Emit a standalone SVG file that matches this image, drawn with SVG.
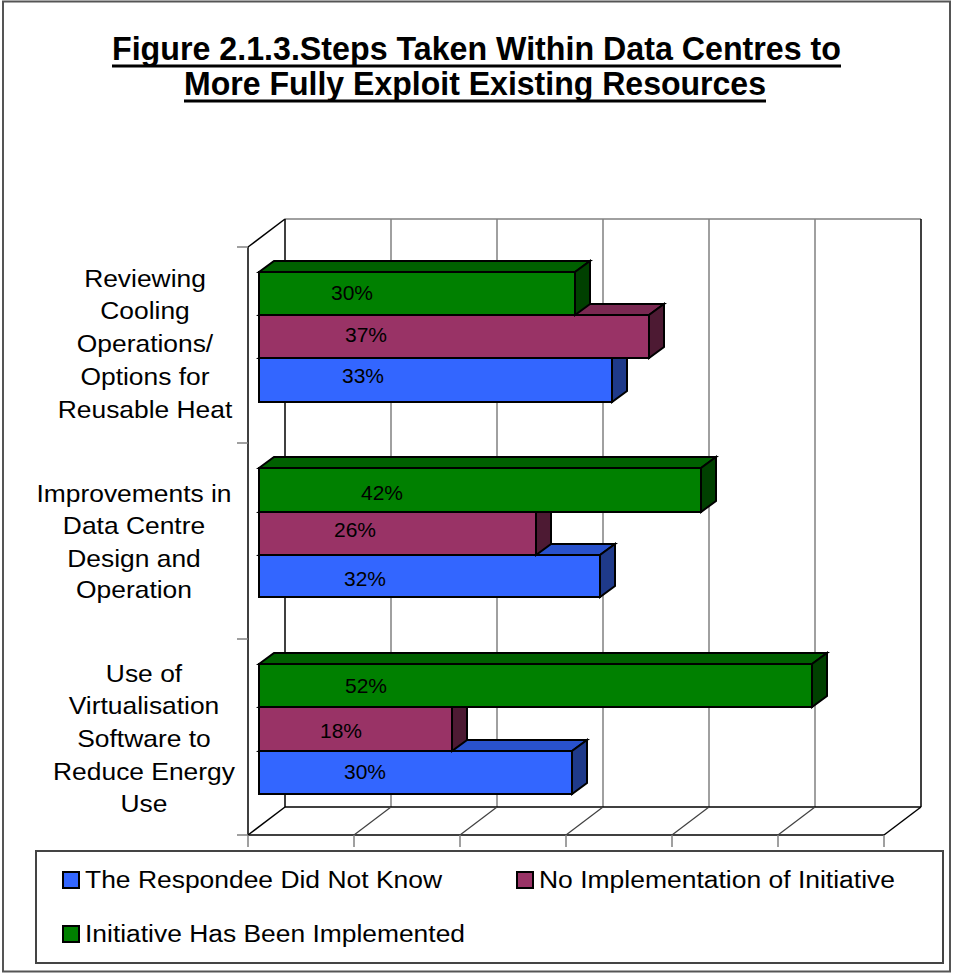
<svg xmlns="http://www.w3.org/2000/svg" width="954" height="974" viewBox="0 0 954 974">
<style>
text{font-family:"Liberation Sans",Arial,sans-serif;fill:#000}
.title{font-size:33px;font-weight:bold}
.cat{font-size:24px;text-anchor:middle}
.val{font-size:21px;text-anchor:middle}
.leg{font-size:23px}
.bar{stroke:#000;stroke-width:2;stroke-linejoin:miter}
.gf{fill:#008000}.gt{fill:#006000}.gs{fill:#004000}
.mf{fill:#993366}.mt{fill:#7a2952}.ms{fill:#4d1a33}
.bf{fill:#3366ff}.bt{fill:#2952cc}.bs{fill:#1f3a8a}
.grid{stroke:#808080;stroke-width:1.5;fill:none}
.ax{stroke:#000;stroke-width:1.5;fill:none}
.dg{stroke:#404040;stroke-width:1.2;fill:none}
</style>
<rect x="0" y="0" width="954" height="974" fill="#fff"/>
<rect x="3" y="1.5" width="947" height="970" fill="none" stroke="#555" stroke-width="2"/>
<g id="title">
<text class="title" x="112" y="60" textLength="729" lengthAdjust="spacingAndGlyphs">Figure 2.1.3.Steps Taken Within Data Centres to</text>
<line x1="112" y1="66" x2="841" y2="66" stroke="#000" stroke-width="3"/>
<text class="title" x="184" y="95" textLength="582" lengthAdjust="spacingAndGlyphs">More Fully Exploit Existing Resources</text>
<line x1="184" y1="101" x2="766" y2="101" stroke="#000" stroke-width="3"/>
</g>
<g id="axes">
<line class="grid" x1="285" y1="219" x2="921" y2="219"/>
<line class="grid" x1="391" y1="219" x2="391" y2="807"/>
<line class="grid" x1="497" y1="219" x2="497" y2="807"/>
<line class="grid" x1="603" y1="219" x2="603" y2="807"/>
<line class="grid" x1="709" y1="219" x2="709" y2="807"/>
<line class="grid" x1="815" y1="219" x2="815" y2="807"/>
<line class="ax" x1="285" y1="219" x2="285" y2="807"/>
<line class="ax" x1="921" y1="219" x2="921" y2="807"/>
<line class="ax" x1="285" y1="807" x2="921" y2="807"/>
<line class="ax" x1="248" y1="247" x2="285" y2="219"/>
<line class="ax" x1="248" y1="247" x2="248" y2="835"/>
<line class="ax" x1="248" y1="835" x2="884" y2="835"/>
<line class="ax" x1="248" y1="835" x2="285" y2="807"/>
<line class="dg" x1="354" y1="835" x2="391" y2="807"/>
<line class="dg" x1="460" y1="835" x2="497" y2="807"/>
<line class="dg" x1="566" y1="835" x2="603" y2="807"/>
<line class="dg" x1="672" y1="835" x2="709" y2="807"/>
<line class="dg" x1="778" y1="835" x2="815" y2="807"/>
<line class="ax" x1="884" y1="835" x2="921" y2="807"/>
<g class="grid">
<line x1="248" y1="835" x2="248" y2="847"/>
<line x1="354" y1="835" x2="354" y2="847"/>
<line x1="460" y1="835" x2="460" y2="847"/>
<line x1="566" y1="835" x2="566" y2="847"/>
<line x1="672" y1="835" x2="672" y2="847"/>
<line x1="778" y1="835" x2="778" y2="847"/>
<line x1="884" y1="835" x2="884" y2="847"/>
<line x1="237" y1="247" x2="248" y2="247"/>
<line x1="237" y1="443" x2="248" y2="443"/>
<line x1="237" y1="639" x2="248" y2="639"/>
<line x1="237" y1="835" x2="248" y2="835"/>
</g>
</g>
<g id="group1">
<g class="bar">
<polygon class="bt" points="259,358 274,347 627,347 612,358"/><polygon class="bs" points="612,358 627,347 627,391 612,402"/><rect class="bf" x="259" y="358" width="353" height="44"/>
<polygon class="mt" points="259,315 274,304 664,304 649,315"/><polygon class="ms" points="649,315 664,304 664,347 649,358"/><rect class="mf" x="259" y="315" width="390" height="43"/>
<polygon class="gt" points="259,272 274,261 590,261 575,272"/><polygon class="gs" points="575,272 590,261 590,304 575,315"/><rect class="gf" x="259" y="272" width="316" height="43"/>
</g>
<text class="val" x="352" y="300">30%</text>
<text class="val" x="366" y="342">37%</text>
<text class="val" x="363" y="383">33%</text>
<g class="cat" transform="translate(145 0) scale(1.1 1)">
<text class="cat" x="0" y="287">Reviewing</text>
<text class="cat" x="0" y="319">Cooling</text>
<text class="cat" x="0" y="352">Operations/</text>
<text class="cat" x="0" y="385">Options for</text>
<text class="cat" x="0" y="418">Reusable Heat</text>
</g>
</g>
<g id="group2">
<g class="bar">
<polygon class="bt" points="259,555 274,544 615,544 600,555"/><polygon class="bs" points="600,555 615,544 615,586 600,597"/><rect class="bf" x="259" y="555" width="341" height="42"/>
<polygon class="mt" points="259,512 274,501 551,501 536,512"/><polygon class="ms" points="536,512 551,501 551,544 536,555"/><rect class="mf" x="259" y="512" width="277" height="43"/>
<polygon class="gt" points="259,468 274,457 716,457 701,468"/><polygon class="gs" points="701,468 716,457 716,501 701,512"/><rect class="gf" x="259" y="468" width="442" height="44"/>
</g>
<text class="val" x="382" y="500">42%</text>
<text class="val" x="355" y="537">26%</text>
<text class="val" x="365" y="586">32%</text>
<g class="cat" transform="translate(134 0) scale(1.1 1)">
<text class="cat" x="0" y="502">Improvements in</text>
<text class="cat" x="0" y="534">Data Centre</text>
<text class="cat" x="0" y="567">Design and</text>
<text class="cat" x="0" y="598">Operation</text>
</g>
</g>
<g id="group3">
<g class="bar">
<polygon class="bt" points="259,751 274,740 587,740 572,751"/><polygon class="bs" points="572,751 587,740 587,783 572,794"/><rect class="bf" x="259" y="751" width="313" height="43"/>
<polygon class="mt" points="259,707 274,696 467,696 452,707"/><polygon class="ms" points="452,707 467,696 467,740 452,751"/><rect class="mf" x="259" y="707" width="193" height="44"/>
<polygon class="gt" points="259,664 274,653 827,653 812,664"/><polygon class="gs" points="812,664 827,653 827,696 812,707"/><rect class="gf" x="259" y="664" width="553" height="43"/>
</g>
<text class="val" x="366" y="693">52%</text>
<text class="val" x="341" y="738">18%</text>
<text class="val" x="365" y="779">30%</text>
<g class="cat" transform="translate(144 0) scale(1.1 1)">
<text class="cat" x="0" y="682">Use of</text>
<text class="cat" x="0" y="714">Virtualisation</text>
<text class="cat" x="0" y="747">Software to</text>
<text class="cat" x="0" y="780">Reduce Energy</text>
<text class="cat" x="0" y="812">Use</text>
</g>
</g>
<g id="legend">
<rect x="36" y="851" width="907" height="112" fill="#fff" stroke="#444" stroke-width="2"/>
<rect x="63" y="872" width="16" height="16" class="bf" stroke="#000" stroke-width="2"/>
<text class="leg" x="85" y="888" textLength="357" lengthAdjust="spacingAndGlyphs">The Respondee Did Not Know</text>
<rect x="517" y="872" width="16" height="16" class="mf" stroke="#000" stroke-width="2"/>
<text class="leg" x="539" y="888" textLength="356" lengthAdjust="spacingAndGlyphs">No Implementation of Initiative</text>
<rect x="63" y="926" width="16" height="16" class="gf" stroke="#000" stroke-width="2"/>
<text class="leg" x="85" y="942" textLength="380" lengthAdjust="spacingAndGlyphs">Initiative Has Been Implemented</text>
</g>
</svg>
